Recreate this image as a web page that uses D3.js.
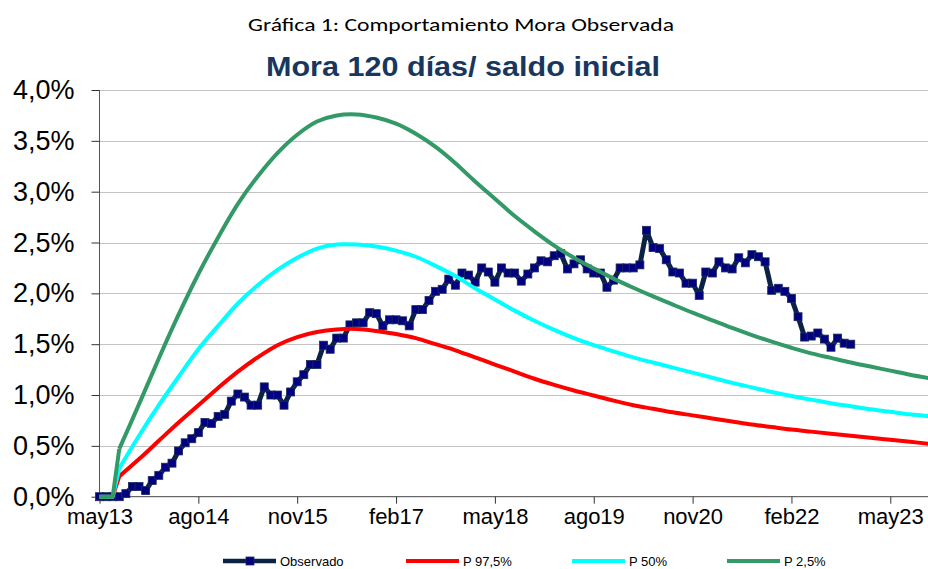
<!DOCTYPE html>
<html>
<head>
<meta charset="utf-8">
<script src="https://cdn.jsdelivr.net/npm/d3@7"></script>
<style>
  body { margin: 0; background: #fff; }
  svg { display: block; }
</style>
</head>
<body>
<div id="grafica"></div>
<script>
// --- datos (valores en %) ---
var titulo = "Gráfica 1: Comportamiento Mora Observada",
    subtitulo = "Mora 120 días/ saldo inicial";

// meses desde may13, uno por observacion
var observado = [
    0, 0, 0, 0, 0.03, 0.10, 0.10, 0.06, 0.16, 0.21,
    0.29, 0.33, 0.45, 0.53, 0.57, 0.63, 0.73, 0.72, 0.79, 0.81,
    0.94, 1.01, 0.98, 0.90, 0.90, 1.08, 1.00, 1.00, 0.90, 1.03,
    1.13, 1.20, 1.30, 1.30, 1.49, 1.45, 1.56, 1.56, 1.69, 1.71,
    1.71, 1.81, 1.80, 1.68, 1.74, 1.74, 1.73, 1.68, 1.84, 1.84,
    1.93, 2.02, 2.04, 2.14, 2.08, 2.20, 2.18, 2.11, 2.25, 2.21,
    2.11, 2.25, 2.20, 2.20, 2.12, 2.19, 2.25, 2.32, 2.31, 2.37,
    2.39, 2.24, 2.29, 2.33, 2.24, 2.20, 2.20, 2.06, 2.13, 2.25,
    2.25, 2.25, 2.28, 2.62, 2.45, 2.44, 2.33, 2.21, 2.20, 2.10,
    2.10, 1.98, 2.21, 2.20, 2.31, 2.25, 2.24, 2.35, 2.30, 2.38,
    2.36, 2.31, 2.03, 2.05, 2.02, 1.95, 1.77, 1.57, 1.58, 1.61,
    1.55, 1.47, 1.56, 1.51, 1.50
];

// meses en que se leyeron las curvas de percentiles
var mesesCurva = [0, 2, 3, 6, 9, 12, 15, 18, 21, 24, 27, 30, 33, 36, 39, 42, 45, 48, 51, 54,
    57, 60, 63, 66, 69, 72, 75, 78, 81, 84, 87, 90, 93, 96, 99, 102, 105, 108, 111, 114,
    117, 120, 123, 126];

var p975 = [0, 0, 0.20, 0.37, 0.55, 0.73, 0.90, 1.07, 1.23, 1.37, 1.49, 1.57, 1.62, 1.645, 1.65, 1.63, 1.60, 1.56, 1.50, 1.44,
    1.37, 1.30, 1.23, 1.16, 1.10, 1.045, 0.995, 0.945, 0.90, 0.865, 0.83, 0.80, 0.77, 0.74, 0.71, 0.685, 0.66, 0.64, 0.62, 0.60,
    0.58, 0.56, 0.54, 0.52];

var p50 = [0, 0, 0.28, 0.60, 0.90, 1.18, 1.45, 1.68, 1.90, 2.08, 2.23, 2.35, 2.44, 2.48, 2.48, 2.46, 2.42, 2.36, 2.27, 2.17,
    2.05, 1.94, 1.83, 1.73, 1.64, 1.56, 1.49, 1.43, 1.37, 1.32, 1.27, 1.22, 1.17, 1.12, 1.075, 1.03, 0.99, 0.955, 0.92, 0.89,
    0.86, 0.835, 0.81, 0.79];

var p25 = [0, 0, 0.47, 0.91, 1.36, 1.79, 2.19, 2.55, 2.88, 3.15, 3.38, 3.56, 3.69, 3.75, 3.76, 3.73, 3.67, 3.57, 3.44, 3.28,
    3.10, 2.93, 2.76, 2.61, 2.47, 2.35, 2.245, 2.145, 2.055, 1.97, 1.89, 1.81, 1.735, 1.66, 1.59, 1.525, 1.465, 1.41, 1.365, 1.32,
    1.28, 1.24, 1.20, 1.165];

var ticksX = [0, 15, 30, 45, 60, 75, 90, 105, 120],
    etiquetasX = ["may13", "ago14", "nov15", "feb17", "may18", "ago19", "nov20", "feb22", "may23"],
    ticksY = [0, 0.5, 1, 1.5, 2, 2.5, 3, 3.5, 4];

(function dibujar (d3) {
    "use strict";
    var width = 928,
        height = 569,
        left = 99.5,
        top = 90,
        bottom = 496.7,
        fuente = "'Liberation Sans', Arial, sans-serif",
        svg, plot, x, y, linea, curva, series;

    svg = d3.select("#grafica").append("svg")
        .attr("width", width)
        .attr("height", height);

    x = d3.scaleLinear().domain([0, 126]).range([left, left + 126 * 6.59]);
    y = d3.scaleLinear().domain([0, 4]).range([bottom, top]);

    svg.append("defs").append("clipPath").attr("id", "area")
        .append("rect")
        .attr("x", left - 6).attr("y", top - 6)
        .attr("width", width - left + 6).attr("height", bottom - top + 12);

    // titulos
    svg.append("text")
        .attr("x", 461).attr("y", 31)
        .attr("text-anchor", "middle")
        .attr("textLength", 426).attr("lengthAdjust", "spacingAndGlyphs")
        .style("font-family", "Carlito, Calibri, 'Open Sans', sans-serif")
        .style("font-size", "18px")
        .style("fill", "#000")
        .text(titulo);

    svg.append("text")
        .attr("x", 463).attr("y", 76)
        .attr("text-anchor", "middle")
        .attr("textLength", 394).attr("lengthAdjust", "spacingAndGlyphs")
        .style("font-family", "'Liberation Sans Narrow', 'Arial Narrow', " + fuente)
        .style("font-size", "28px")
        .style("font-weight", "bold")
        .style("fill", "#17375e")
        .text(subtitulo);

    // rejilla
    svg.append("g").selectAll("line")
        .data(ticksY.filter(function (d) { return d > 0; }))
        .join("line")
        .attr("x1", left).attr("x2", width)
        .attr("y1", function (d) { return Math.round(y(d)) + 0.5; })
        .attr("y2", function (d) { return Math.round(y(d)) + 0.5; })
        .attr("stroke", "#c4c4c4")
        .attr("stroke-width", 1);

    // eje Y
    var ejeY = svg.append("g")
        .attr("transform", "translate(" + left + ",0)")
        .call(d3.axisLeft(y).tickValues(ticksY).tickSize(8).tickPadding(17)
            .tickFormat(function (d) { return d3.format(".1f")(d).replace(".", ",") + "%"; }));
    ejeY.select(".domain").attr("stroke", "#555").attr("d", "M0," + top + "V" + bottom);
    ejeY.selectAll(".tick line").attr("stroke", "#333");
    ejeY.selectAll("text")
        .style("font-family", fuente)
        .style("font-size", "27px")
        .style("fill", "#000");

    // eje X
    var ejeX = svg.append("g")
        .attr("transform", "translate(0," + bottom + ")")
        .call(d3.axisBottom(x).tickValues(ticksX).tickSize(7).tickPadding(5)
            .tickFormat(function (d, i) { return etiquetasX[i]; }));
    ejeX.select(".domain").attr("stroke", "#444").attr("d", "M" + left + ",0H" + width);
    ejeX.selectAll(".tick line").attr("stroke", "#333");
    ejeX.selectAll("text")
        .style("font-family", fuente)
        .style("font-size", "22px")
        .style("fill", "#000");

    plot = svg.append("g").attr("clip-path", "url(#area)");

    linea = d3.line()
        .x(function (d) { return x(d[0]); })
        .y(function (d) { return y(d[1]); });

    curva = d3.line()
        .x(function (d) { return x(d[0]); })
        .y(function (d) { return y(d[1]); })
        .curve(d3.curveCatmullRom.alpha(0.5));

    // observado
    var puntosObs = observado.map(function (v, i) { return [i, v]; });
    plot.append("path")
        .datum(puntosObs)
        .attr("d", linea)
        .attr("fill", "none")
        .attr("stroke", "#0b2245")
        .attr("stroke-width", 5)
        .attr("stroke-linejoin", "round");
    plot.append("g").selectAll("rect")
        .data(puntosObs)
        .join("rect")
        .attr("x", function (d) { return x(d[0]) - 4; })
        .attr("y", function (d) { return y(d[1]) - 4; })
        .attr("width", 8).attr("height", 8)
        .attr("fill", "#000080")
        .attr("stroke", "#1c2c5c")
        .attr("stroke-width", 0.8);

    series = [
        { nombre: "P 97,5%", valores: p975, color: "#ff0000" },
        { nombre: "P 50%", valores: p50, color: "#00ffff" },
        { nombre: "P 2,5%", valores: p25, color: "#339966" }
    ];

    // tramo inicial recto (salto del mes 2 al 3) y el resto suavizado
    series.forEach(function (s) {
        var pts = mesesCurva.map(function (m, i) { return [m, s.valores[i]]; }),
            g = plot.append("g")
                .attr("fill", "none")
                .attr("stroke", s.color)
                .attr("stroke-width", 4)
                .attr("stroke-linejoin", "round");
        g.append("path").datum(pts.slice(0, 3)).attr("d", linea);
        g.append("path").datum(pts.slice(2)).attr("d", curva);
    });

    // leyenda
    var ley = svg.append("g").attr("transform", "translate(0,561)"),
        posLey = [223, 406, 572, 727];
    ley.append("line")
        .attr("x1", posLey[0]).attr("x2", posLey[0] + 53)
        .attr("stroke", "#0b2245").attr("stroke-width", 4.5);
    ley.append("rect")
        .attr("x", posLey[0] + 23).attr("y", -4)
        .attr("width", 8).attr("height", 8)
        .attr("fill", "#000080").attr("stroke", "#1c2c5c").attr("stroke-width", 0.8);
    ley.append("text")
        .attr("x", posLey[0] + 57).attr("dy", "0.35em")
        .style("font-family", fuente).style("font-size", "13px")
        .text("Observado");
    series.forEach(function (s, i) {
        var x0 = posLey[i + 1];
        ley.append("line")
            .attr("x1", x0).attr("x2", x0 + 53)
            .attr("stroke", s.color).attr("stroke-width", 4);
        ley.append("text")
            .attr("x", x0 + 57).attr("dy", "0.35em")
            .style("font-family", fuente).style("font-size", "13px")
            .text(s.nombre);
    });
})(window.d3);
</script>
</body>
</html>
